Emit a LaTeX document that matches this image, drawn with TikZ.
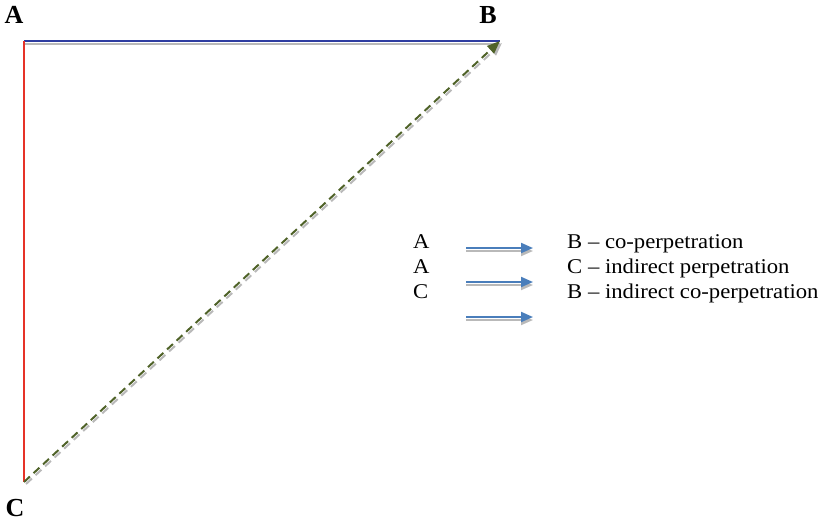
\documentclass[tikz,border=0pt]{standalone}
\usepackage{fontspec}
\setmainfont{Liberation Serif}
\usetikzlibrary{arrows.meta,positioning,calc}
\definecolor{topblue}{RGB}{46,60,160}
\definecolor{sidered}{RGB}{230,50,40}
\definecolor{olivegreen}{RGB}{79,98,40}
\definecolor{legblue}{RGB}{74,126,187}
\definecolor{shadowgray}{RGB}{185,185,185}
\tikzset{
  corner/.style     = {font=\fontsize{26}{28}\selectfont\bfseries, inner sep=0pt},
  legtext/.style    = {font=\fontsize{21}{24}\selectfont, inner sep=0pt,
                       anchor=base west, xscale=1.08},
  shadowline/.style = {draw=shadowgray, line width=2pt},
  legarrow/.style   = {line width=2pt, -{Triangle[length=12pt,width=10pt]}},
  diag/.style       = {line width=2pt, dash pattern=on 8pt off 5pt,
                       -{Triangle[length=13pt,width=10pt]}},
}
\begin{document}
\begin{tikzpicture}[x=1pt,y=-1pt]
\useasboundingbox (0,0) rectangle (824,523);
% corners of the triangle
\coordinate (A) at (24,41);
\coordinate (B) at (500,41);
\coordinate (C) at (24,482);
\node[corner] (labA) at (14,15) {A};
\node[corner] (labB) at (488,15) {B};
\node[corner] (labC) at (15,508) {C};
% sides
\draw[shadowline] ($(A)+(1,3)$) -- ($(B)+(0,3)$);
\draw[topblue, line width=2pt] (A) -- (B);
\draw[sidered, line width=2pt] (A) -- (C);
\draw[diag, shadowgray] ($(C)+(2,2)$) -- ($(B)+(2,2)$);
\draw[diag, olivegreen] (C) -- (B);
% legend
\node[legtext] (from1) at (413,248) {A};
\node[legtext] (from2) at (413,273) {A};
\node[legtext] (from3) at (413,298) {C};
\node[legtext] (to1) at (567,248) {B -- co-perpetration};
\node[legtext] (to2) at (567,273) {C -- indirect perpetration};
\node[legtext] (to3) at (567,298) {B -- indirect co-perpetration};
\foreach \y [count=\i] in {248,282,317} {
  \coordinate (s\i) at (466,\y);
  \coordinate (e\i) at (533,\y);
  \draw[legarrow, shadowgray] ($(s\i)+(0,3)$) -- ($(e\i)+(0,3)$);
  \draw[legarrow, legblue] (s\i) -- (e\i);
}
\end{tikzpicture}
\end{document}
